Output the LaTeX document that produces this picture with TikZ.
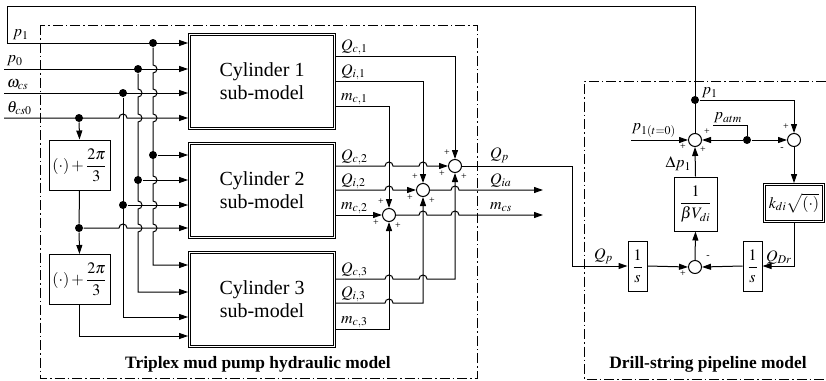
\documentclass[tikz,border=0pt]{standalone}
\usepackage{amsmath}
\usepackage{mathptmx}
\usepackage[no-math]{fontspec}
\setmainfont{Liberation Serif}
\usepackage{tikz}
\usetikzlibrary{arrows.meta,calc}

% line hops: rightwards over a vertical, and down / up past a horizontal
\newcommand{\hopr}{arc[start angle=180,end angle=0,radius=4pt]}
\newcommand{\hopd}{arc[start angle=90,end angle=-90,radius=4pt]}

\begin{document}
\begin{tikzpicture}[x=1pt, y=-1pt, line width=1pt,
  cyl/.style={draw, line width=0.8pt, minimum width=147pt, minimum height=96pt,
              align=center, font=\fontsize{20}{23}\selectfont},
  blk/.style={draw, fill=white, inner sep=1pt, font=\fontsize{16}{18}\selectfont},
  sumj/.style={circle, draw, fill=white, minimum size=13pt, inner sep=0pt},
  dot/.style={circle, fill, inner sep=0pt, minimum size=8pt},
  sgn/.style={inner sep=0pt, font=\fontsize{10}{10}\selectfont},
  lbl/.style={inner sep=0.5pt, font=\fontsize{16}{16}\selectfont},
  modelcap/.style={font=\bfseries\fontsize{17.4}{20}\selectfont},
  arr/.style={-{Triangle[length=9pt,width=6pt]}},
  frame/.style={line width=0.8pt, dash pattern=on 10pt off 3pt on 1.5pt off 3pt}]
\useasboundingbox (0,0) rectangle (826,380);
% --- model frames ---
\draw[frame] (40,25) rectangle (477,378);
\draw[frame] (826,81) -- (584,81) -- (584,379) -- (826,379);
\node[modelcap] (capL) at (258,364) {Triplex mud pump hydraulic model};
\node[modelcap] (capR) at (708,364) {Drill-string pipeline model};
% --- cylinder sub-models ---
\node[cyl] (cyl1) at (262,81)    {Cylinder 1\\sub-model};
\node[cyl] (cyl2) at (262,190.5) {Cylinder 2\\sub-model};
\node[cyl] (cyl3) at (262,299.5) {Cylinder 3\\sub-model};
\node[blk, minimum width=61pt, minimum height=50pt] (shA) at (79.5,165)
  {$(\cdot)+\dfrac{2\pi}{3}$};
\node[blk, minimum width=61pt, minimum height=50pt] (shB) at (79.5,279.5)
  {$(\cdot)+\dfrac{2\pi}{3}$};
% --- branch points ---
\node[dot] (dp1)  at (153,43)  {};
\node[dot] (dp0)  at (138,69)  {};
\node[dot] (dw)   at (123,93)  {};
\node[dot] (dth)  at (79,118)  {};
\node[dot] (dp1b) at (153,155) {};
\node[dot] (dp0b) at (138,180) {};
\node[dot] (dwb)  at (123,205) {};
\node[dot] (dthb) at (79,228)  {};
% --- inputs ---
\coordinate (in0) at (4,69);
\coordinate (inw) at (4,93);
\coordinate (inth) at (4,118);
\node[lbl, anchor=south west] (lp1) at (12,41)  {$p_1$};
\node[lbl, anchor=south west] (lp0) at (6,67)   {$p_0$};
\node[lbl, anchor=south west] (lw)  at (6,91)   {$\omega_{cs}$};
\node[lbl, anchor=south west] (lth) at (6,116)  {$\theta_{cs0}$};
\draw[arr] (in0) -- (cyl1.west |- dp0);
\draw[arr] (inw) -- (cyl1.west |- dw);
\draw[arr] (inth) -- (119,118) \hopr -- (cyl1.west |- dth);
\draw[arr] (dp1) -- (153,65) \hopd -- (153,89) \hopd -- (153,114) \hopd
  -- (153,176) \hopd -- (153,201) \hopd -- (153,224) \hopd
  -- (153,265) -- (cyl3.west |- 0,265);
\draw[arr] (dp1b) -- (cyl2.west |- dp1b);
\draw[arr] (dp0) -- (138,89) \hopd -- (138,114) \hopd
  -- (138,201) \hopd -- (138,224) \hopd -- (138,292) -- (cyl3.west |- 0,292);
\draw[arr] (dp0b) -- (cyl2.west |- dp0b);
\draw[arr] (dw) -- (123,317) -- (cyl3.west |- 0,317);
\draw[arr] (dwb) -- (cyl2.west |- dwb);
\draw[arr] (dth) -- (shA.north);
\draw (shA.south) -- (dthb);
\draw[arr] (dthb) -- (shB.north);
\draw[arr] (dthb) -- (119,228) \hopr -- (cyl2.west |- dthb);
\draw[arr] (shB.south) |- (cyl3.west |- 0,336);
% --- summing of the cylinder outputs ---
\node[sumj] (sQ) at (455,166) {};
\node[sumj] (sI) at (423,190) {};
\node[sumj] (sM) at (389,215) {};
\foreach \s in {sQ,sI,sM} {
  \node[sgn] at ($(\s)+(-8,-13)$) {+};
  \node[sgn] at ($(\s)+(-13,8)$)  {+};
  \node[sgn] at ($(\s)+(9,11)$)   {+};
}
\foreach \k/\y in {1/56, 2/166, 3/279}
  \node[lbl, anchor=south west] at (340,\y) {$Q_{c,\k}$};
\foreach \k/\y in {1/81, 2/190, 3/303}
  \node[lbl, anchor=south west] at (340,\y) {$Q_{i,\k}$};
\foreach \k/\y in {1/106, 2/215, 3/329}
  \node[lbl, anchor=south west] at (340,\y) {$m_{c,\k}$};
\draw[arr] (cyl1.east |- 0,56) -| (sQ.north);
\draw[arr] (cyl1.east |- 0,81) -| (sI.north);
\draw[arr] (cyl1.east |- 0,106) -| (sM.north);
\draw[arr] (cyl2.east |- sQ) -- (385,166) \hopr -- (419,166) \hopr -- (sQ.west);
\draw[arr] (cyl2.east |- sI) -- (385,190) \hopr -- (sI.west);
\draw[arr] (cyl2.east |- sM) -- (sM.west);
\draw[arr] (cyl3.east |- 0,279) -- (385,279) \hopr -- (419,279) \hopr
  -- (455,279) -- (sQ.south);
\draw[arr] (cyl3.east |- 0,303) -- (385,303) \hopr -- (423,303) -- (sI.south);
\draw[arr] (cyl3.east |- 0,329) -| (sM.south);
\coordinate (oI) at (543,190);
\coordinate (oM) at (543,215);
\draw[arr] (sI.east) -- (451,190) \hopr -- (oI);
\draw[arr] (sM.east) -- (419,215) \hopr -- (451,215) \hopr -- (oM);
\node[lbl, anchor=south west] (lQp) at (489,164) {$Q_p$};
\node[lbl, anchor=south west] (lQi) at (489,188) {$Q_{ia}$};
\node[lbl, anchor=south west] (lmc) at (489,213) {$m_{cs}$};
% --- drill-string pipeline ---
\node[sumj] (sP) at (695,140) {};
\node[sumj] (sR) at (794,140) {};
\node[sumj] (sD) at (695,267) {};
\node[dot] (dq)   at (695,100) {};
\node[dot] (datm) at (747,140) {};
\node[blk, minimum width=43pt, minimum height=54pt] (gain) at (695.5,204)
  {$\dfrac{1}{\beta V_{di}}$};
\node[blk, line width=0.8pt, minimum width=61pt, minimum height=39pt] (flow)
  at (794,203) {$k_{di}\sqrt{(\cdot)}$};
\node[blk, minimum width=19pt, minimum height=50pt] (intA) at (637.5,266)
  {$\dfrac{1}{s}$};
\node[blk, minimum width=19pt, minimum height=50pt] (intB) at (752.5,266)
  {$\dfrac{1}{s}$};
% second, inner border of the double boxes
\foreach \b in {cyl1,cyl2,cyl3,flow}
  \draw[line width=0.8pt] ([shift={(2.4pt,2.4pt)}]\b.south west)
    rectangle ([shift={(-2.4pt,-2.4pt)}]\b.north east);
\coordinate (p10) at (631,140);
\coordinate (atm) at (713,125);
\draw[arr] (sP.north) -- (695,6) -- (7,6) -- (7,43) -- (cyl1.west |- dp1);
\draw[arr] (sQ.east) -- (572,166) |- (intA.west);
\draw[arr] (dq) -| (sR.north);
\draw[arr] (p10) -- (sP.west);
\draw (atm) -| (datm);
\draw[arr] (datm) -- (sP.east);
\draw[arr] (datm) -- (sR.west);
\draw[arr] (sR.south) -- (flow.north);
\draw[arr] (flow.south) |- (intB.east);
\draw[arr] (intB.west) -- (sD.east);
\draw[arr] (intA.east) -- (sD.west);
\draw[arr] (sD.north) -- (gain.south);
\draw[arr] (gain.north) -- (sP.south);
\node[sgn] at ($(sP)+(12,-8)$) {+};
\node[sgn] at ($(sP)+(-12,7)$) {+};
\node[sgn] at ($(sP)+(8,10)$)  {+};
\node[sgn] at ($(sR)+(-8,-13)$) {+};
\node[sgn] at ($(sR)+(-12,9)$)  {-};
\node[sgn] at ($(sD)+(-12,7)$)  {+};
\node[sgn] at ($(sD)+(13,-10)$) {-};
\node[lbl, anchor=south west] (lq1)  at (701,99)  {$p_1$};
\node[lbl, anchor=south west] (latm) at (713,124) {$p_{atm}$};
\node[lbl, anchor=south west] (l10)  at (631,138) {$p_{1(t=0)}$};
\node[lbl, anchor=east]       (ldp)  at (692,164) {$\Delta p_1$};
\node[lbl, anchor=south west] (lQp2) at (593,265) {$Q_p$};
\node[lbl, anchor=south west] (lQd)  at (765,265) {$Q_{Dr}$};
\end{tikzpicture}
\end{document}
